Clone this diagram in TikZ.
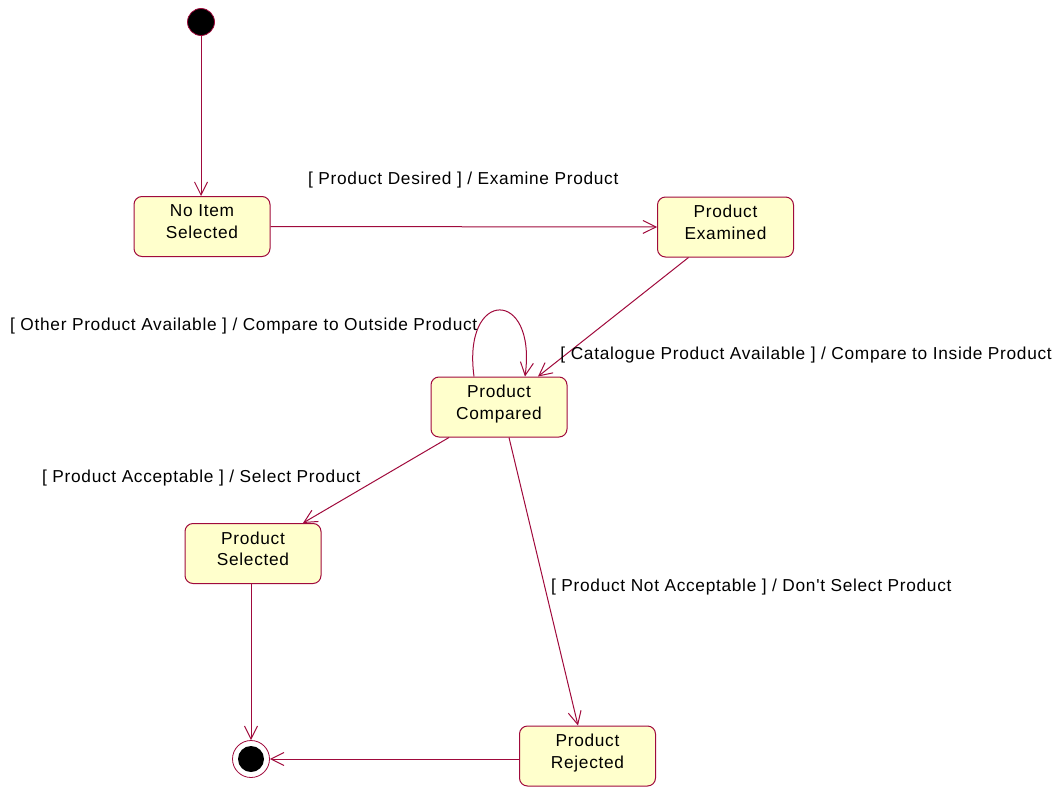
\documentclass[tikz,border=0pt]{standalone}
\usepackage{fontspec}
\setmainfont{Liberation Sans}[LetterSpace=4,Ligatures=TeXOff]
\usetikzlibrary{arrows.meta,calc}
\definecolor{umlline}{RGB}{160,10,60}
\definecolor{umlfill}{RGB}{255,255,204}
\begin{document}
\begin{tikzpicture}[x=1pt,y=-1pt,
  every node/.style={font=\fontsize{17.3}{21.5}\selectfont},
  state/.style={draw=umlline,fill=umlfill,line width=1pt,rounded corners=8pt,
    minimum width=136pt,minimum height=60pt,align=center,inner sep=0pt,
    text depth=10pt},
  lbl/.style={anchor=base west,inner sep=0pt},
  trans/.style={draw=umlline,line width=1pt,
    -{Straight Barb[length=13pt,width=13pt,line width=1pt]}}]
\useasboundingbox (0,0) rectangle (1058,787);

% pseudo states
\node (init) [circle,fill=black,draw=umlline,line width=0.8pt,minimum size=27pt,inner sep=0pt] at (201,22) {};
\node (final) [circle,draw=umlline,line width=0.8pt,fill=white,minimum size=37pt,inner sep=0pt] at (251,759) {};
\node (finaldot) [circle,fill=black,minimum size=26pt,inner sep=0pt] at (final) {};

% states
\node (noitem) [state] at (202,226.5) {No Item\\Selected};
\node (exam)   [state] at (725.5,227) {Product\\Examined};
\node (cmp)    [state] at (499,407) {Product\\Compared};
\node (sel)    [state] at (253,553.5) {Product\\Selected};
\node (rej)    [state] at (587.5,756) {Product\\Rejected};

% transitions
\draw[trans] (init) -- (init |- noitem.north);
\draw[trans] (noitem.east) -- (exam.west);
\draw[trans] ($(exam.south)+(-37,0)$) -- ($(cmp.north)+(39,0)$);
\draw[trans] ($(cmp.north)+(-25,0)$) .. controls (462,288) and (537,288) .. ($(cmp.north)+(26,0)$);
\draw[trans] ($(cmp.south)+(-50,0)$) -- ($(sel.north)+(50,0)$);
\draw[trans] ($(cmp.south)+(10,0)$) -- ($(rej.north)+(-9.5,0)$);
\draw[trans] (final |- sel.south) -- (final);
\draw[trans] (rej.west |- final) -- (final);

% transition labels
\node (l1) [lbl] at (308,184) {[ Product Desired ] / Examine Product};
\node (l2) [lbl,anchor=base east] at (1052,359) {[ Catalogue Product Available ] / Compare to Inside Product};
\node (l3) [lbl] at (10,330) {[ Other Product Available ] / Compare to Outside Product};
\node (l4) [lbl] at (42,482) {[ Product Acceptable ] / Select Product};
\node (l5) [lbl] at (551,591) {[ Product Not Acceptable ] / Don't Select Product};
\end{tikzpicture}
\end{document}
